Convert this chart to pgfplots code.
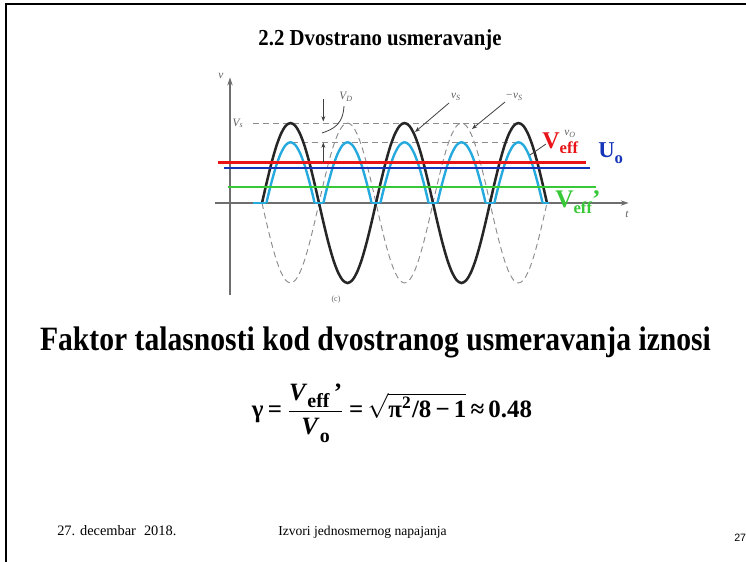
\documentclass[border=0pt]{standalone}
\usepackage{pgfplots}
\pgfplotsset{compat=1.18}
\usepackage{pgfplotstable}
\usepackage{graphicx}
\usepackage{fontspec}
\setmainfont{Liberation Serif}
\newfontfamily\arialfont{Liberation Sans}
\usetikzlibrary{arrows.meta}

\definecolor{curvecyan}{RGB}{38,170,222}
\definecolor{linered}{RGB}{232,20,24}
\definecolor{lineblue}{RGB}{22,52,185}
\definecolor{linegreen}{RGB}{55,200,55}
\definecolor{labelgray}{RGB}{95,95,95}
\definecolor{dashgray}{RGB}{140,140,140}
\definecolor{axisgray}{RGB}{110,110,110}

% input voltage v_S = 10 sin(t), t in degrees, and its inverse -v_S
\pgfplotstableread{
t vs mvs
0 0 0
15 2.588 -2.588
30 5.000 -5.000
45 7.071 -7.071
60 8.660 -8.660
75 9.659 -9.659
90 10.000 -10.000
105 9.659 -9.659
120 8.660 -8.660
135 7.071 -7.071
150 5.000 -5.000
165 2.588 -2.588
180 0 0
195 -2.588 2.588
210 -5.000 5.000
225 -7.071 7.071
240 -8.660 8.660
255 -9.659 9.659
270 -10.000 10.000
285 -9.659 9.659
300 -8.660 8.660
315 -7.071 7.071
330 -5.000 5.000
345 -2.588 2.588
360 0 0
375 2.588 -2.588
390 5.000 -5.000
405 7.071 -7.071
420 8.660 -8.660
435 9.659 -9.659
450 10.000 -10.000
465 9.659 -9.659
480 8.660 -8.660
495 7.071 -7.071
510 5.000 -5.000
525 2.588 -2.588
540 0 0
555 -2.588 2.588
570 -5.000 5.000
585 -7.071 7.071
600 -8.660 8.660
615 -9.659 9.659
630 -10.000 10.000
645 -9.659 9.659
660 -8.660 8.660
675 -7.071 7.071
690 -5.000 5.000
705 -2.588 2.588
720 0 0
735 2.588 -2.588
750 5.000 -5.000
765 7.071 -7.071
780 8.660 -8.660
795 9.659 -9.659
810 10.000 -10.000
825 9.659 -9.659
840 8.660 -8.660
855 7.071 -7.071
870 5.000 -5.000
885 2.588 -2.588
900 0 0
}\sinetable

\newcommand\fitw[3]{\scalebox{1}[#2]{\resizebox{#1}{!}{#3}}}

\begin{document}
\begin{tikzpicture}
\begin{axis}[
  at={(160.875pt,-221.85pt)}, anchor=south west,
  scale only axis, width=311.125pt, height=164.4pt,
  xmin=-150, xmax=1160, ymin=-11.6, ymax=15.8,
  axis lines=none, clip=false]
  % axes
  \draw[axisgray, line width=0.8pt, -{Stealth[length=6pt,width=4pt]}]
    (axis cs:-150,0) -- (axis cs:1158,0);
  \draw[axisgray, line width=0.8pt, -{Stealth[length=6pt,width=4pt]}]
    (axis cs:-101,-11.5) -- (axis cs:-101,15.7);
  % peak levels V_s and V_s - V_D
  \addplot[dashgray, line width=0.7pt, dash pattern=on 4.5pt off 3pt] coordinates {(-28,10) (815,10)};
  \addplot[dashgray, line width=0.7pt, dash pattern=on 4.5pt off 3pt] coordinates {(94,7.6) (808,7.6)};
  % -v_S
  \addplot[dashgray, smooth, line width=0.7pt, dash pattern=on 4.5pt off 3pt] table[x=t,y=mvs] {\sinetable};
  % v_S
  \addplot[black!85, smooth, line width=1.9pt] table[x=t,y=vs] {\sinetable};
  % rectified output v_O
  \addplot[curvecyan, line width=1.8pt, unbounded coords=jump] coordinates {
    (-28,0) (13.9,0) (100,nan) (166.1,0) (193.9,0) (250,nan) (346.1,0) (373.9,0) (450,nan)
    (526.1,0) (553.9,0) (650,nan) (706.1,0) (733.9,0) (800,nan) (886.1,0) (905,0)};
  \addplot[curvecyan, line width=1.8pt, smooth] coordinates {
    (13.9,0) (20,1.02) (30,2.6) (45,4.671) (60,6.26) (75,7.259) (90,7.6) (105,7.259) (120,6.26) (135,4.671) (150,2.6) (160,1.02) (166.1,0)};
  \addplot[curvecyan, line width=1.8pt, smooth] coordinates {
    (193.9,0) (200,1.02) (210,2.6) (225,4.671) (240,6.26) (255,7.259) (270,7.6) (285,7.259) (300,6.26) (315,4.671) (330,2.6) (340,1.02) (346.1,0)};
  \addplot[curvecyan, line width=1.8pt, smooth] coordinates {
    (373.9,0) (380,1.02) (390,2.6) (405,4.671) (420,6.26) (435,7.259) (450,7.6) (465,7.259) (480,6.26) (495,4.671) (510,2.6) (520,1.02) (526.1,0)};
  \addplot[curvecyan, line width=1.8pt, smooth] coordinates {
    (553.9,0) (560,1.02) (570,2.6) (585,4.671) (600,6.26) (615,7.259) (630,7.6) (645,7.259) (660,6.26) (675,4.671) (690,2.6) (700,1.02) (706.1,0)};
  \addplot[curvecyan, line width=1.8pt, smooth] coordinates {
    (733.9,0) (740,1.02) (750,2.6) (765,4.671) (780,6.26) (795,7.259) (810,7.6) (825,7.259) (840,6.26) (855,4.671) (870,2.6) (880,1.02) (886.1,0)};
  % effective and mean values
  \addplot[linered, line width=2.2pt] coordinates {(-139,5.12) (1023,5.12)};
  \addplot[lineblue, line width=2.2pt] coordinates {(-120,4.38) (1036,4.38)};
  \addplot[linegreen, line width=2.2pt] coordinates {(-107,2.0) (1055,2.0)};
\end{axis}

\begin{scope}[x=0.75pt,y=-0.75pt]
  % slide frame
  \draw[line width=1.5pt] (6,575) -- (6,3.5) -- (760,3.5);
  % title
  \node[anchor=base] at (380,45) {\fitw{182.25pt}{1.1}{\bfseries 2.2 Dvostrano usmeravanje}};
  % diagram annotations
  \begin{scope}[labelgray, font=\fontsize{8.5}{8.5}\selectfont\itshape]
    \node at (221,76) {v};
    \node at (238,123) {V\textsubscript{s}};
    \node at (346,97) {V\textsubscript{D}};
    \node at (456,97) {v\textsubscript{S}};
    \node at (514,97) {−v\textsubscript{S}};
    \node at (570,134) {v\textsubscript{O}};
    \node at (627,214) {t};
    \node[font=\fontsize{6}{6}\selectfont] at (336,300) {(c)};
  \end{scope}
  \begin{scope}[black!75, line width=0.6pt]
    \draw[-{Stealth[length=4pt,width=3pt]}] (323.3,99) -- (323.3,121.5);
    \draw[-{Stealth[length=4pt,width=3pt]}] (323.3,162) -- (323.3,142.5);
    \draw (344,106) .. controls (343,124) and (334,129) .. (322,133);
    \draw[-{Stealth[length=4pt,width=3pt]}] (449,103) -- (415,132);
    \draw[-{Stealth[length=4pt,width=3pt]}] (505,102) -- (472,129);
    \draw (546,144) -- (530,155);
  \end{scope}
  % value labels
  \node[anchor=base west, inner sep=0pt, text=linered] at (542,148)
    {\bfseries\fontsize{18}{18}\selectfont V\raisebox{-4pt}{\fontsize{12.5}{12}\selectfont eff}};
  \node[anchor=base west, inner sep=0pt, text=lineblue] at (598,157)
    {\bfseries\fontsize{17}{17}\selectfont U\raisebox{-4.5pt}{\fontsize{12.5}{12}\selectfont o}};
  \node[anchor=base west, inner sep=0pt, text=linegreen] at (555,207)
    {\bfseries\fontsize{19}{19}\selectfont V\raisebox{-4.5pt}{\fontsize{12.5}{12}\selectfont eff}’};
  % statement
  \node[anchor=base] at (375.5,350) {\fitw{503.25pt}{1.15}{\bfseries Faktor talasnosti kod dvostranog usmeravanja iznosi}};
  % ripple factor
  \node at (392,413) {\fitw{210pt}{1.0}{\bfseries
    γ\,=\,$\displaystyle\frac{\mbox{\textit{V}\raisebox{-3pt}{\footnotesize eff}\,’}}{\mbox{\textit{V}\raisebox{-3pt}{\footnotesize o}}}$\,=\,$\sqrt{\mbox{π\textsuperscript{2}/8\,−\,1}}$\,≈\,0.48}};
  % footer
  \node[anchor=base west, inner sep=0pt] at (57,535) {\fontsize{10.8}{12}\selectfont 27. decembar\hspace{6pt}2018.};
  \node[anchor=base west, inner sep=0pt] at (278,535) {\fontsize{10.2}{12}\selectfont Izvori jednosmernog napajanja};
  \node[anchor=base west, inner sep=0pt] at (734,541) {\arialfont\fontsize{8}{9}\selectfont 27};
  \pgfresetboundingbox
  \path[use as bounding box] (0,0) rectangle (746,561);
\end{scope}
\end{tikzpicture}
\end{document}
